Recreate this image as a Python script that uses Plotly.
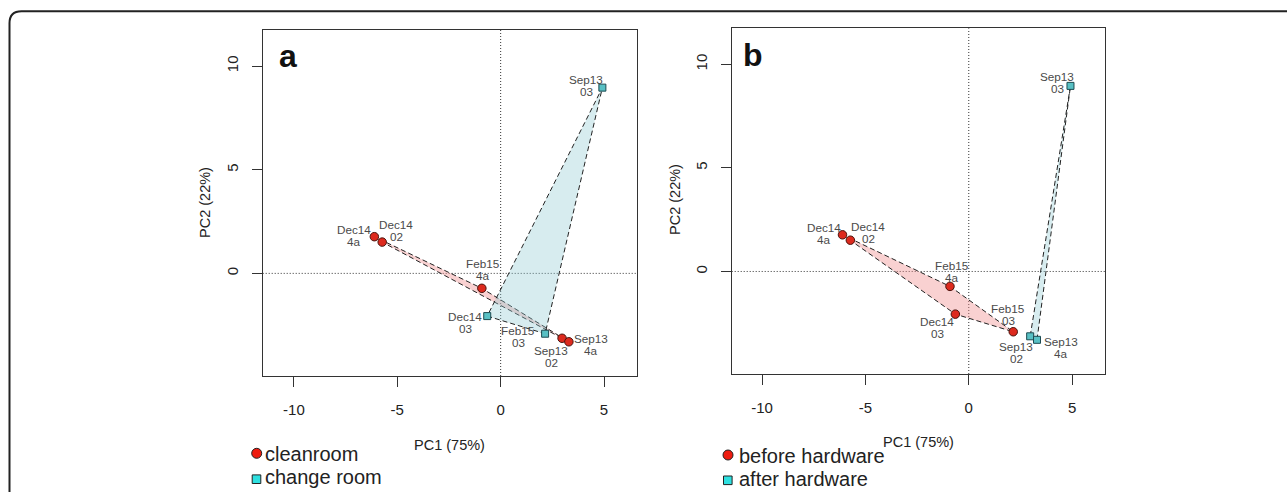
import plotly.graph_objects as go

W, H = 1287, 492

# ---------------- data ----------------
samples = ["Sep13 03", "Dec14 4a", "Dec14 02", "Feb15 4a", "Dec14 03", "Feb15 03", "Sep13 02", "Sep13 4a"]
pc1 = [4.92, -6.11, -5.73, -0.91, -0.65, 2.15, 2.97, 3.30]
pc2 = [8.96, 1.77, 1.51, -0.72, -2.06, -2.91, -3.13, -3.30]
group_a = ["change room", "cleanroom", "cleanroom", "cleanroom", "change room", "change room", "cleanroom", "cleanroom"]
group_b = ["after hardware", "before hardware", "before hardware", "before hardware", "before hardware",
           "before hardware", "after hardware", "after hardware"]
legend_a = ["cleanroom", "change room"]
legend_b = ["before hardware", "after hardware"]
x_ticks = [-10, -5, 0, 5]
x_tick_text = ["-10", "-5", "0", "5"]
y_ticks = [0, 5, 10]
y_tick_text = ["0", "5", "10"]
x_title = "PC1 (75%)"
y_title = "PC2 (22%)"
panel_letters = ["a", "b"]

# ---------------- style ----------------
RED = "#dd2a1e"
RED_LINE = "#4a140e"
TEAL = "#58c0c4"
TEAL_LINE = "#1c4a50"
PINK_FILL = "rgba(240,140,140,0.40)"
BLUE_FILL = "rgba(140,200,210,0.35)"
FONT = "Arial, Liberation Sans, sans-serif"

# label block-center offsets in pixels (dx right, dy down), per panel
offs_a = [(-16, -2), (-20, -1), (14, -12), (1, -19), (-22, 6), (-27, 3), (-11, 18), (22, 3)]
offs_b = [(-13, -3), (-18, -1), (18, -8), (2, -15), (-18, 13.5), (-5, -17), (-14, 16.5), (24, 8)]


def px_x(p):
    return p / W


def px_y(p):
    return 1 - p / H


def convex_hull(pts):
    pts = sorted(set(pts))
    if len(pts) <= 2:
        return pts

    def cross(o, a, b):
        return (a[0] - o[0]) * (b[1] - o[1]) - (a[1] - o[1]) * (b[0] - o[0])

    lower, upper = [], []
    for p in pts:
        while len(lower) >= 2 and cross(lower[-2], lower[-1], p) <= 0:
            lower.pop()
        lower.append(p)
    for p in reversed(pts):
        while len(upper) >= 2 and cross(upper[-2], upper[-1], p) <= 0:
            upper.pop()
        upper.append(p)
    return lower[:-1] + upper[:-1]


fig = go.Figure()
annotations = []
shapes = []

panels = [
    dict(groups=group_a, legend=legend_a, xa="x", ya="y", offs=offs_a, letter=panel_letters[0],
         dom_x=(262.7, 636.7), dom_y=(30, 376), xr=[-11.51, 6.58],
         letter_pos=(288, 56), xt_pos=(449.3, 445), yt_pos=(205, 203),
         leg=[(256.7, 453.3, 262.5, 454), (256.5, 479.2, 262.5, 476.6)]),
    dict(groups=group_b, legend=legend_b, xa="x2", ya="y2", offs=offs_b, letter=panel_letters[1],
         dom_x=(731.7, 1105), dom_y=(28.3, 374), xr=[-11.47, 6.59],
         letter_pos=(753, 55), xt_pos=(918.3, 441.7), yt_pos=(675, 200),
         leg=[(728, 455, 736.5, 455.8), (727.8, 480.3, 736.5, 479)]),
]

for pi, P in enumerate(panels):
    circ_group, sq_group = P["legend"]
    # hulls
    for grp, fillc in [(circ_group, PINK_FILL), (sq_group, BLUE_FILL)]:
        pts = [(x, y) for x, y, g in zip(pc1, pc2, P["groups"]) if g == grp]
        hull = convex_hull(pts)
        hx = [p[0] for p in hull] + [hull[0][0]]
        hy = [p[1] for p in hull] + [hull[0][1]]
        fig.add_trace(go.Scatter(x=hx, y=hy, mode="lines", fill="toself", fillcolor=fillc,
                                 line=dict(color="#222222", width=1, dash="5px,3px"),
                                 xaxis=P["xa"], yaxis=P["ya"], hoverinfo="skip", showlegend=False))
    # markers
    for grp, sym, fc, lc, sz in [(circ_group, "circle", RED, RED_LINE, 8.5), (sq_group, "square", TEAL, TEAL_LINE, 7)]:
        xs = [x for x, g in zip(pc1, P["groups"]) if g == grp]
        ys = [y for y, g in zip(pc2, P["groups"]) if g == grp]
        fig.add_trace(go.Scatter(x=xs, y=ys, mode="markers",
                                 marker=dict(symbol=sym, size=sz, color=fc, line=dict(color=lc, width=1)),
                                 xaxis=P["xa"], yaxis=P["ya"], showlegend=False, name=grp))
    # point labels (two lines each)
    for name, x, y, (dx, dy) in zip(samples, pc1, pc2, P["offs"]):
        l1, l2 = name.split(" ")
        for txt, ly in [(l1, dy - 6), (l2, dy + 6)]:
            annotations.append(dict(x=x, y=y, xref=P["xa"], yref=P["ya"], text=txt, showarrow=False,
                                    xanchor="center", yanchor="middle", xshift=dx, yshift=-ly,
                                    font=dict(family=FONT, size=11.7, color="#4a4a4a")))
    # zero lines
    shapes.append(dict(type="line", xref=P["xa"], yref=P["ya"] + " domain", x0=0, x1=0, y0=0, y1=1,
                       line=dict(color="#333333", width=1, dash="1px,2px"), layer="below"))
    shapes.append(dict(type="line", xref=P["xa"] + " domain", yref=P["ya"], x0=0, x1=1, y0=0, y1=0,
                       line=dict(color="#333333", width=1, dash="1px,2px"), layer="below"))
    # panel letter
    lx, ly = P["letter_pos"]
    annotations.append(dict(x=px_x(lx), y=px_y(ly), xref="paper", yref="paper", text="<b>%s</b>" % P["letter"],
                            showarrow=False, xanchor="center", yanchor="middle",
                            font=dict(family=FONT, size=32, color="#111111")))
    # axis titles
    tx, ty = P["xt_pos"]
    annotations.append(dict(x=px_x(tx), y=px_y(ty), xref="paper", yref="paper", text=x_title, showarrow=False,
                            xanchor="center", yanchor="middle", font=dict(family=FONT, size=14.5, color="#222222")))
    tx, ty = P["yt_pos"]
    annotations.append(dict(x=px_x(tx), y=px_y(ty), xref="paper", yref="paper", text=y_title, showarrow=False,
                            textangle=-90, xanchor="center", yanchor="middle",
                            font=dict(family=FONT, size=14.5, color="#222222")))
    # legend
    (cx, cy, tx1, ty1), (sx, sy, tx2, ty2) = P["leg"]
    r = 5
    shapes.append(dict(type="circle", xref="paper", yref="paper", x0=px_x(cx - r), x1=px_x(cx + r),
                       y0=px_y(cy + r), y1=px_y(cy - r), fillcolor="#ee1c10", line=dict(color="#222222", width=1)))
    s = 4.3
    shapes.append(dict(type="rect", xref="paper", yref="paper", x0=px_x(sx - s), x1=px_x(sx + s),
                       y0=px_y(sy + s), y1=px_y(sy - s), fillcolor="#2ee0e0", line=dict(color="#222222", width=1)))
    annotations.append(dict(x=px_x(tx1), y=px_y(ty1), xref="paper", yref="paper", text=circ_group,
                            showarrow=False, xanchor="left", yanchor="middle",
                            font=dict(family=FONT, size=20, color="#222222")))
    annotations.append(dict(x=px_x(tx2), y=px_y(ty2), xref="paper", yref="paper", text=sq_group,
                            showarrow=False, xanchor="left", yanchor="middle",
                            font=dict(family=FONT, size=20, color="#222222")))

# figure border with rounded top-left corner
bx, by, rad = 9.5, 11.3, 12
path = "M %f,%f L %f,%f Q %f,%f %f,%f L %f,%f" % (
    px_x(bx), px_y(H + 5), px_x(bx), px_y(by + rad), px_x(bx), px_y(by), px_x(bx + rad), px_y(by),
    px_x(W + 5), px_y(by))
shapes.append(dict(type="path", xref="paper", yref="paper", path=path, line=dict(color="#222222", width=2)))

axis_common = dict(showgrid=False, zeroline=False, showline=True, mirror=True, linecolor="#333333", linewidth=1,
                   ticks="outside", ticklen=10, tickwidth=1, tickcolor="#333333",
                   tickfont=dict(family=FONT, size=15, color="#222222"))

layout = dict(width=W, height=H, margin=dict(l=0, r=0, t=0, b=0), paper_bgcolor="white", plot_bgcolor="white",
              showlegend=False, annotations=annotations, shapes=shapes)
for i, P in enumerate(panels):
    sfx = "" if i == 0 else str(i + 1)
    layout["xaxis" + sfx] = dict(axis_common, domain=[px_x(P["dom_x"][0]), px_x(P["dom_x"][1])], range=P["xr"],
                                 tickmode="array", tickvals=x_ticks, ticktext=x_tick_text,
                                 anchor="y" + sfx, ticklabelstandoff=10)
    layout["yaxis" + sfx] = dict(axis_common, domain=[px_y(P["dom_y"][1]), px_y(P["dom_y"][0])],
                                 range=[-4.95, 11.74], tickmode="array", tickvals=y_ticks, ticktext=y_tick_text,
                                 tickangle=-90, anchor="x" + sfx, ticklabelstandoff=8)

fig.update_layout(**layout)
fig.write_html("out.html")
